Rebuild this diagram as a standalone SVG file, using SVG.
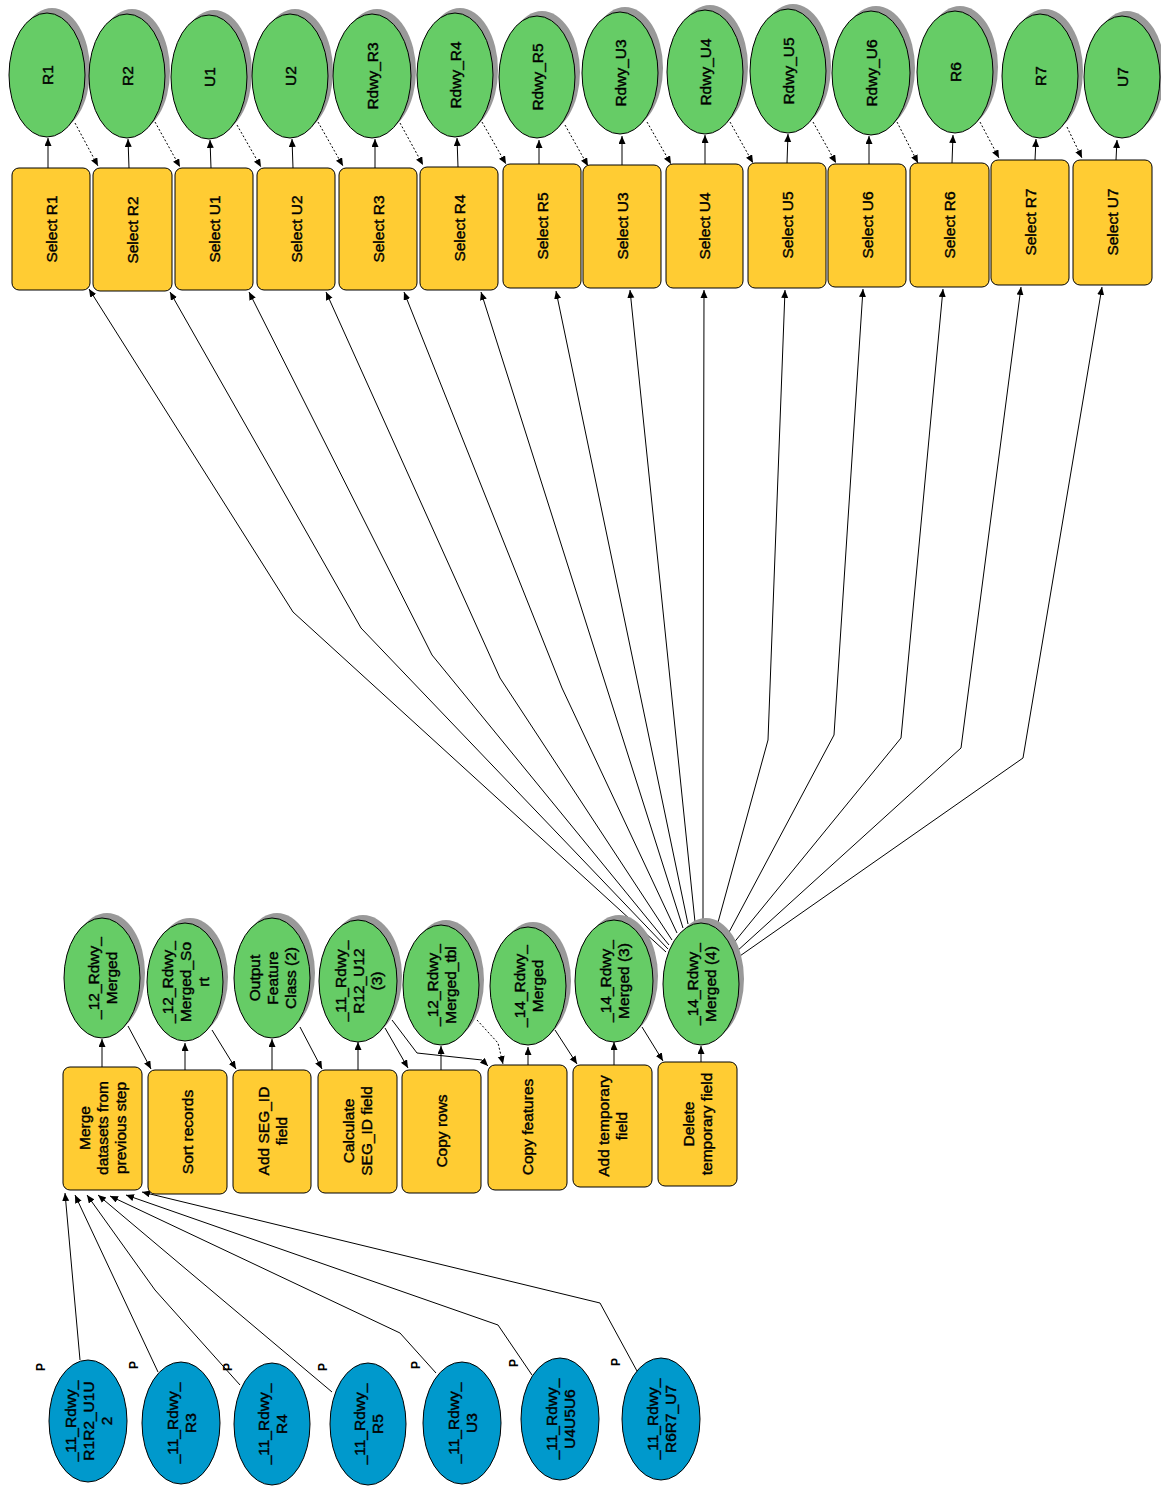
<svg xmlns="http://www.w3.org/2000/svg" width="1161" height="1489" viewBox="0 0 1161 1489">
<style>
.g{fill:#66CC66;stroke:#000;stroke-width:1}
.sh{fill:#999999;stroke:none}
.y{fill:#FFCC33;stroke:#000;stroke-width:1}
.b{fill:#0099CC;stroke:#000;stroke-width:1}
.t{font-family:"Liberation Sans",Arial,sans-serif;font-size:15.5px;fill:#000;stroke:#000;stroke-width:0.4;text-anchor:middle;dominant-baseline:central}
.p{font-family:"Liberation Sans",Arial,sans-serif;font-size:12px;font-weight:bold;fill:#000;text-anchor:middle;dominant-baseline:central}
.c{fill:none;stroke:#000;stroke-width:1}
.d{fill:none;stroke:#000;stroke-width:1;stroke-dasharray:2,2}
</style>
<defs>
<marker id="a" markerUnits="userSpaceOnUse" markerWidth="9" markerHeight="8" refX="8" refY="3.5" orient="auto">
<path d="M0,0 L8,3.5 L0,7 z" fill="#000"/>
</marker>
</defs>
<rect width="1161" height="1489" fill="#fff"/>

<g id="connectors">
<!-- top row: select -> output -->
<g marker-end="url(#a)">
<line class="c" x1="48" y1="168" x2="48" y2="138"/>
<line class="c" x1="129" y1="168" x2="128" y2="139"/>
<line class="c" x1="211" y1="168" x2="210" y2="140"/>
<line class="c" x1="293" y1="168" x2="292" y2="139"/>
<line class="c" x1="375" y1="168" x2="375" y2="139"/>
<line class="c" x1="458" y1="167" x2="457" y2="138"/>
<line class="c" x1="539" y1="164" x2="539" y2="140"/>
<line class="c" x1="622" y1="165" x2="622" y2="136"/>
<line class="c" x1="705" y1="164" x2="705" y2="135"/>
<line class="c" x1="787" y1="163" x2="788" y2="134"/>
<line class="c" x1="869" y1="164" x2="869" y2="136"/>
<line class="c" x1="952" y1="163" x2="953" y2="135"/>
<line class="c" x1="1035" y1="160" x2="1036" y2="139"/>
<line class="c" x1="1116" y1="160" x2="1117" y2="140"/>
</g>
<!-- top row: preconditions (dotted) -->
<g marker-end="url(#a)">
<line class="d" x1="75" y1="123" x2="98" y2="166"/>
<line class="d" x1="155" y1="122" x2="180" y2="167"/>
<line class="d" x1="237" y1="125" x2="261" y2="167"/>
<line class="d" x1="318" y1="122" x2="343" y2="166"/>
<line class="d" x1="400" y1="123" x2="423" y2="165"/>
<line class="d" x1="482" y1="122" x2="506" y2="164"/>
<line class="d" x1="565" y1="125" x2="588" y2="166"/>
<line class="d" x1="647" y1="122" x2="671" y2="164"/>
<line class="d" x1="730" y1="122" x2="753" y2="163"/>
<line class="d" x1="813" y1="122" x2="836" y2="163"/>
<line class="d" x1="897" y1="122" x2="918" y2="163"/>
<line class="d" x1="980" y1="122" x2="999" y2="158"/>
<line class="d" x1="1067" y1="127" x2="1082" y2="158"/>
</g>
<!-- fan from _14_Rdwy_Merged (4) to Select tools -->
<g marker-end="url(#a)">
<polyline class="c" points="666,952 293,612 89,289"/>
<polyline class="c" points="668,949 361,628 170,292"/>
<polyline class="c" points="669,945 432,655 249,292"/>
<polyline class="c" points="672,940 500,678 326,292"/>
<polyline class="c" points="677,933 562,688 404,292"/>
<polyline class="c" points="683,928 481,292"/>
<polyline class="c" points="688,924 556,291"/>
<polyline class="c" points="695,922 630,290"/>
<polyline class="c" points="703,921 703,763 704,290"/>
<polyline class="c" points="717,926 768,740 785,290"/>
<polyline class="c" points="727,936 834,735 863,289"/>
<polyline class="c" points="732,945 901,738 943,289"/>
<polyline class="c" points="736,952 961,748 1021,287"/>
<polyline class="c" points="737,958 1023,758 1102,287"/>
</g>
<!-- middle chain -->
<g marker-end="url(#a)">
<line class="c" x1="102" y1="1067" x2="102" y2="1039"/>
<line class="c" x1="128" y1="1026" x2="151" y2="1069"/>
<line class="c" x1="185" y1="1070" x2="185" y2="1043"/>
<line class="c" x1="212" y1="1030" x2="236" y2="1069"/>
<line class="c" x1="272" y1="1070" x2="272" y2="1039"/>
<line class="c" x1="300" y1="1027" x2="322" y2="1069"/>
<line class="c" x1="358" y1="1070" x2="358" y2="1042"/>
<line class="c" x1="385" y1="1028" x2="408" y2="1068"/>
<polyline class="c" points="392,1020 417,1053 482,1060 488,1066"/>
<line class="c" x1="441" y1="1070" x2="441" y2="1046"/>
<polyline class="d" points="477,1020 498,1043 503,1064"/>
<line class="c" x1="528" y1="1065" x2="528" y2="1047"/>
<line class="c" x1="555" y1="1030" x2="577" y2="1064"/>
<line class="c" x1="614" y1="1065" x2="614" y2="1042"/>
<line class="c" x1="642" y1="1027" x2="663" y2="1061"/>
<line class="c" x1="701" y1="1062" x2="701" y2="1046"/>
</g>
<!-- inputs to Merge -->
<g marker-end="url(#a)">
<polyline class="c" points="80,1360 65,1193"/>
<polyline class="c" points="158,1372 75,1195"/>
<polyline class="c" points="240,1385 155,1290 87,1195"/>
<polyline class="c" points="332,1392 98,1195"/>
<polyline class="c" points="436,1373 400,1333 110,1196"/>
<polyline class="c" points="532,1375 498,1325 126,1195"/>
<polyline class="c" points="637,1371 600,1303 142,1192"/>
</g>
</g>

<!-- top row outputs -->
<g id="out_R1"><ellipse class="sh" cx="52" cy="70" rx="38" ry="62"/><ellipse class="g" cx="47" cy="75" rx="38" ry="62"/><text class="t" transform="translate(47,75) rotate(-90)">R1</text></g>
<g id="out_R2"><ellipse class="sh" cx="132" cy="71" rx="38" ry="62"/><ellipse class="g" cx="127" cy="76" rx="38" ry="62"/><text class="t" transform="translate(127,76) rotate(-90)">R2</text></g>
<g id="out_U1"><ellipse class="sh" cx="214" cy="72" rx="38" ry="62"/><ellipse class="g" cx="209" cy="77" rx="38" ry="62"/><text class="t" transform="translate(209,77) rotate(-90)">U1</text></g>
<g id="out_U2"><ellipse class="sh" cx="295" cy="71" rx="38" ry="62"/><ellipse class="g" cx="290" cy="76" rx="38" ry="62"/><text class="t" transform="translate(290,76) rotate(-90)">U2</text></g>
<g id="out_R3"><ellipse class="sh" cx="377" cy="71" rx="39" ry="62"/><ellipse class="g" cx="372" cy="76" rx="39" ry="62"/><text class="t" transform="translate(372,76) rotate(-90)">Rdwy_R3</text></g>
<g id="out_R4"><ellipse class="sh" cx="460" cy="70" rx="38" ry="62"/><ellipse class="g" cx="455" cy="75" rx="38" ry="62"/><text class="t" transform="translate(455,75) rotate(-90)">Rdwy_R4</text></g>
<g id="out_R5"><ellipse class="sh" cx="542" cy="72" rx="38" ry="61"/><ellipse class="g" cx="537" cy="77" rx="38" ry="61"/><text class="t" transform="translate(537,77) rotate(-90)">Rdwy_R5</text></g>
<g id="out_U3"><ellipse class="sh" cx="625" cy="68" rx="38" ry="61"/><ellipse class="g" cx="620" cy="73" rx="38" ry="61"/><text class="t" transform="translate(620,73) rotate(-90)">Rdwy_U3</text></g>
<g id="out_U4"><ellipse class="sh" cx="710" cy="67" rx="38" ry="62"/><ellipse class="g" cx="705" cy="72" rx="38" ry="62"/><text class="t" transform="translate(705,72) rotate(-90)">Rdwy_U4</text></g>
<g id="out_U5"><ellipse class="sh" cx="793" cy="66" rx="38" ry="62"/><ellipse class="g" cx="788" cy="71" rx="38" ry="62"/><text class="t" transform="translate(788,71) rotate(-90)">Rdwy_U5</text></g>
<g id="out_U6"><ellipse class="sh" cx="876" cy="68" rx="39" ry="62"/><ellipse class="g" cx="871" cy="73" rx="39" ry="62"/><text class="t" transform="translate(871,73) rotate(-90)">Rdwy_U6</text></g>
<g id="out_R6"><ellipse class="sh" cx="960" cy="67" rx="38" ry="61"/><ellipse class="g" cx="955" cy="72" rx="38" ry="61"/><text class="t" transform="translate(955,72) rotate(-90)">R6</text></g>
<g id="out_R7"><ellipse class="sh" cx="1045" cy="71" rx="38" ry="62"/><ellipse class="g" cx="1040" cy="76" rx="38" ry="62"/><text class="t" transform="translate(1040,76) rotate(-90)">R7</text></g>
<g id="out_U7"><ellipse class="sh" cx="1127" cy="72" rx="38" ry="61"/><ellipse class="g" cx="1122" cy="77" rx="38" ry="61"/><text class="t" transform="translate(1122,77) rotate(-90)">U7</text></g>

<!-- top row select tools -->
<g id="sel_R1"><rect class="y" x="12" y="168" width="78" height="122" rx="7"/><text class="t" transform="translate(51,229) rotate(-90)">Select R1</text></g>
<g id="sel_R2"><rect class="y" x="93" y="168" width="79" height="123" rx="7"/><text class="t" transform="translate(132,230) rotate(-90)">Select R2</text></g>
<g id="sel_U1"><rect class="y" x="175" y="168" width="78" height="122" rx="7"/><text class="t" transform="translate(214,229) rotate(-90)">Select U1</text></g>
<g id="sel_U2"><rect class="y" x="257" y="168" width="78" height="122" rx="7"/><text class="t" transform="translate(296,229) rotate(-90)">Select U2</text></g>
<g id="sel_R3"><rect class="y" x="339" y="168" width="78" height="122" rx="7"/><text class="t" transform="translate(378,229) rotate(-90)">Select R3</text></g>
<g id="sel_R4"><rect class="y" x="420" y="167" width="78" height="123" rx="7"/><text class="t" transform="translate(459,228) rotate(-90)">Select R4</text></g>
<g id="sel_R5"><rect class="y" x="503" y="164" width="78" height="124" rx="7"/><text class="t" transform="translate(542,226) rotate(-90)">Select R5</text></g>
<g id="sel_U3"><rect class="y" x="583" y="165" width="78" height="123" rx="7"/><text class="t" transform="translate(622,226) rotate(-90)">Select U3</text></g>
<g id="sel_U4"><rect class="y" x="666" y="164" width="77" height="124" rx="7"/><text class="t" transform="translate(704,226) rotate(-90)">Select U4</text></g>
<g id="sel_U5"><rect class="y" x="748" y="163" width="78" height="125" rx="7"/><text class="t" transform="translate(787,225) rotate(-90)">Select U5</text></g>
<g id="sel_U6"><rect class="y" x="828" y="164" width="78" height="123" rx="7"/><text class="t" transform="translate(867,225) rotate(-90)">Select U6</text></g>
<g id="sel_R6"><rect class="y" x="910" y="163" width="79" height="124" rx="7"/><text class="t" transform="translate(949,225) rotate(-90)">Select R6</text></g>
<g id="sel_R7"><rect class="y" x="991" y="160" width="78" height="125" rx="7"/><text class="t" transform="translate(1030,222) rotate(-90)">Select R7</text></g>
<g id="sel_U7"><rect class="y" x="1073" y="160" width="79" height="125" rx="7"/><text class="t" transform="translate(1112,222) rotate(-90)">Select U7</text></g>

<!-- middle outputs -->
<g id="m_12_merged"><ellipse class="sh" cx="107" cy="973" rx="38" ry="60"/><ellipse class="g" cx="102" cy="978" rx="38" ry="60"/><text class="t" transform="translate(102,978) rotate(-90)"><tspan x="0" y="-9">_12_Rdwy_</tspan><tspan x="0" y="9">Merged</tspan></text></g>
<g id="m_12_sort"><ellipse class="sh" cx="190" cy="977" rx="38" ry="59"/><ellipse class="g" cx="185" cy="982" rx="38" ry="59"/><text class="t" transform="translate(185,982) rotate(-90)"><tspan x="0" y="-18">_12_Rdwy_</tspan><tspan x="0" y="0">Merged_So</tspan><tspan x="0" y="18">rt</tspan></text></g>
<g id="m_outfc2"><ellipse class="sh" cx="277" cy="973" rx="38" ry="60"/><ellipse class="g" cx="272" cy="978" rx="38" ry="60"/><text class="t" transform="translate(272,978) rotate(-90)"><tspan x="0" y="-18">Output</tspan><tspan x="0" y="0">Feature</tspan><tspan x="0" y="18">Class (2)</tspan></text></g>
<g id="m_11_r12u12_3"><ellipse class="sh" cx="363" cy="976" rx="39" ry="61"/><ellipse class="g" cx="358" cy="981" rx="39" ry="61"/><text class="t" transform="translate(358,981) rotate(-90)"><tspan x="0" y="-18">_11_Rdwy_</tspan><tspan x="0" y="0">R12_U12</tspan><tspan x="0" y="18">(3)</tspan></text></g>
<g id="m_12_tbl"><ellipse class="sh" cx="446" cy="980" rx="38" ry="60"/><ellipse class="g" cx="441" cy="985" rx="38" ry="60"/><text class="t" transform="translate(441,985) rotate(-90)"><tspan x="0" y="-9">_12_Rdwy_</tspan><tspan x="0" y="9">Merged_tbl</tspan></text></g>
<g id="m_14_merged"><ellipse class="sh" cx="533" cy="981" rx="38" ry="59"/><ellipse class="g" cx="528" cy="986" rx="38" ry="59"/><text class="t" transform="translate(528,986) rotate(-90)"><tspan x="0" y="-9">_14_Rdwy_</tspan><tspan x="0" y="9">Merged</tspan></text></g>
<g id="m_14_merged3"><ellipse class="sh" cx="619" cy="976" rx="39" ry="61"/><ellipse class="g" cx="614" cy="981" rx="39" ry="61"/><text class="t" transform="translate(614,981) rotate(-90)"><tspan x="0" y="-9">_14_Rdwy_</tspan><tspan x="0" y="9">Merged (3)</tspan></text></g>
<g id="m_14_merged4"><ellipse class="sh" cx="706" cy="979" rx="38" ry="61"/><ellipse class="g" cx="701" cy="984" rx="38" ry="61"/><text class="t" transform="translate(701,984) rotate(-90)"><tspan x="0" y="-9">_14_Rdwy_</tspan><tspan x="0" y="9">Merged (4)</tspan></text></g>

<!-- middle tools -->
<g id="t_merge"><rect class="y" x="63" y="1067" width="79" height="123" rx="7"/><text class="t" transform="translate(102,1128) rotate(-90)"><tspan x="0" y="-18">Merge</tspan><tspan x="0" y="0">datasets from</tspan><tspan x="0" y="18">previous step</tspan></text></g>
<g id="t_sort"><rect class="y" x="148" y="1070" width="79" height="124" rx="7"/><text class="t" transform="translate(187,1132) rotate(-90)">Sort records</text></g>
<g id="t_addseg"><rect class="y" x="233" y="1070" width="78" height="123" rx="7"/><text class="t" transform="translate(272,1131) rotate(-90)"><tspan x="0" y="-9">Add SEG_ID</tspan><tspan x="0" y="9">field</tspan></text></g>
<g id="t_calc"><rect class="y" x="318" y="1070" width="79" height="123" rx="7"/><text class="t" transform="translate(357,1131) rotate(-90)"><tspan x="0" y="-9">Calculate</tspan><tspan x="0" y="9">SEG_ID field</tspan></text></g>
<g id="t_copyrows"><rect class="y" x="402" y="1070" width="79" height="123" rx="7"/><text class="t" transform="translate(441,1131) rotate(-90)">Copy rows</text></g>
<g id="t_copyfeat"><rect class="y" x="488" y="1065" width="79" height="125" rx="7"/><text class="t" transform="translate(527,1127) rotate(-90)">Copy features</text></g>
<g id="t_addtemp"><rect class="y" x="573" y="1065" width="79" height="122" rx="7"/><text class="t" transform="translate(612,1126) rotate(-90)"><tspan x="0" y="-9">Add temporary</tspan><tspan x="0" y="9">field</tspan></text></g>
<g id="t_deltemp"><rect class="y" x="658" y="1062" width="79" height="124" rx="7"/><text class="t" transform="translate(697,1124) rotate(-90)"><tspan x="0" y="-9">Delete</tspan><tspan x="0" y="9">temporary field</tspan></text></g>

<!-- inputs -->
<g id="in_R1R2U1U2"><ellipse class="b" cx="88" cy="1421" rx="39" ry="61"/><text class="t" transform="translate(88,1421) rotate(-90)"><tspan x="0" y="-18">_11_Rdwy_</tspan><tspan x="0" y="0">R1R2_U1U</tspan><tspan x="0" y="18">2</tspan></text><text class="p" transform="translate(41,1367) rotate(-90)">P</text></g>
<g id="in_R3"><ellipse class="b" cx="181" cy="1423" rx="39" ry="61"/><text class="t" transform="translate(181,1423) rotate(-90)"><tspan x="0" y="-9">_11_Rdwy_</tspan><tspan x="0" y="9">R3</tspan></text><text class="p" transform="translate(134,1365) rotate(-90)">P</text></g>
<g id="in_R4"><ellipse class="b" cx="272" cy="1424" rx="38" ry="61"/><text class="t" transform="translate(272,1424) rotate(-90)"><tspan x="0" y="-9">_11_Rdwy_</tspan><tspan x="0" y="9">R4</tspan></text><text class="p" transform="translate(228,1367) rotate(-90)">P</text></g>
<g id="in_R5"><ellipse class="b" cx="368" cy="1424" rx="38" ry="61"/><text class="t" transform="translate(368,1424) rotate(-90)"><tspan x="0" y="-9">_11_Rdwy_</tspan><tspan x="0" y="9">R5</tspan></text><text class="p" transform="translate(323,1367) rotate(-90)">P</text></g>
<g id="in_U3"><ellipse class="b" cx="462" cy="1423" rx="39" ry="61"/><text class="t" transform="translate(462,1423) rotate(-90)"><tspan x="0" y="-9">_11_Rdwy_</tspan><tspan x="0" y="9">U3</tspan></text><text class="p" transform="translate(416,1365) rotate(-90)">P</text></g>
<g id="in_U4U5U6"><ellipse class="b" cx="560" cy="1419" rx="39" ry="61"/><text class="t" transform="translate(560,1419) rotate(-90)"><tspan x="0" y="-9">_11_Rdwy_</tspan><tspan x="0" y="9">U4U5U6</tspan></text><text class="p" transform="translate(514,1363) rotate(-90)">P</text></g>
<g id="in_R6R7U7"><ellipse class="b" cx="661" cy="1419" rx="39" ry="61"/><text class="t" transform="translate(661,1419) rotate(-90)"><tspan x="0" y="-9">_11_Rdwy_</tspan><tspan x="0" y="9">R6R7_U7</tspan></text><text class="p" transform="translate(616,1362) rotate(-90)">P</text></g>
</svg>
